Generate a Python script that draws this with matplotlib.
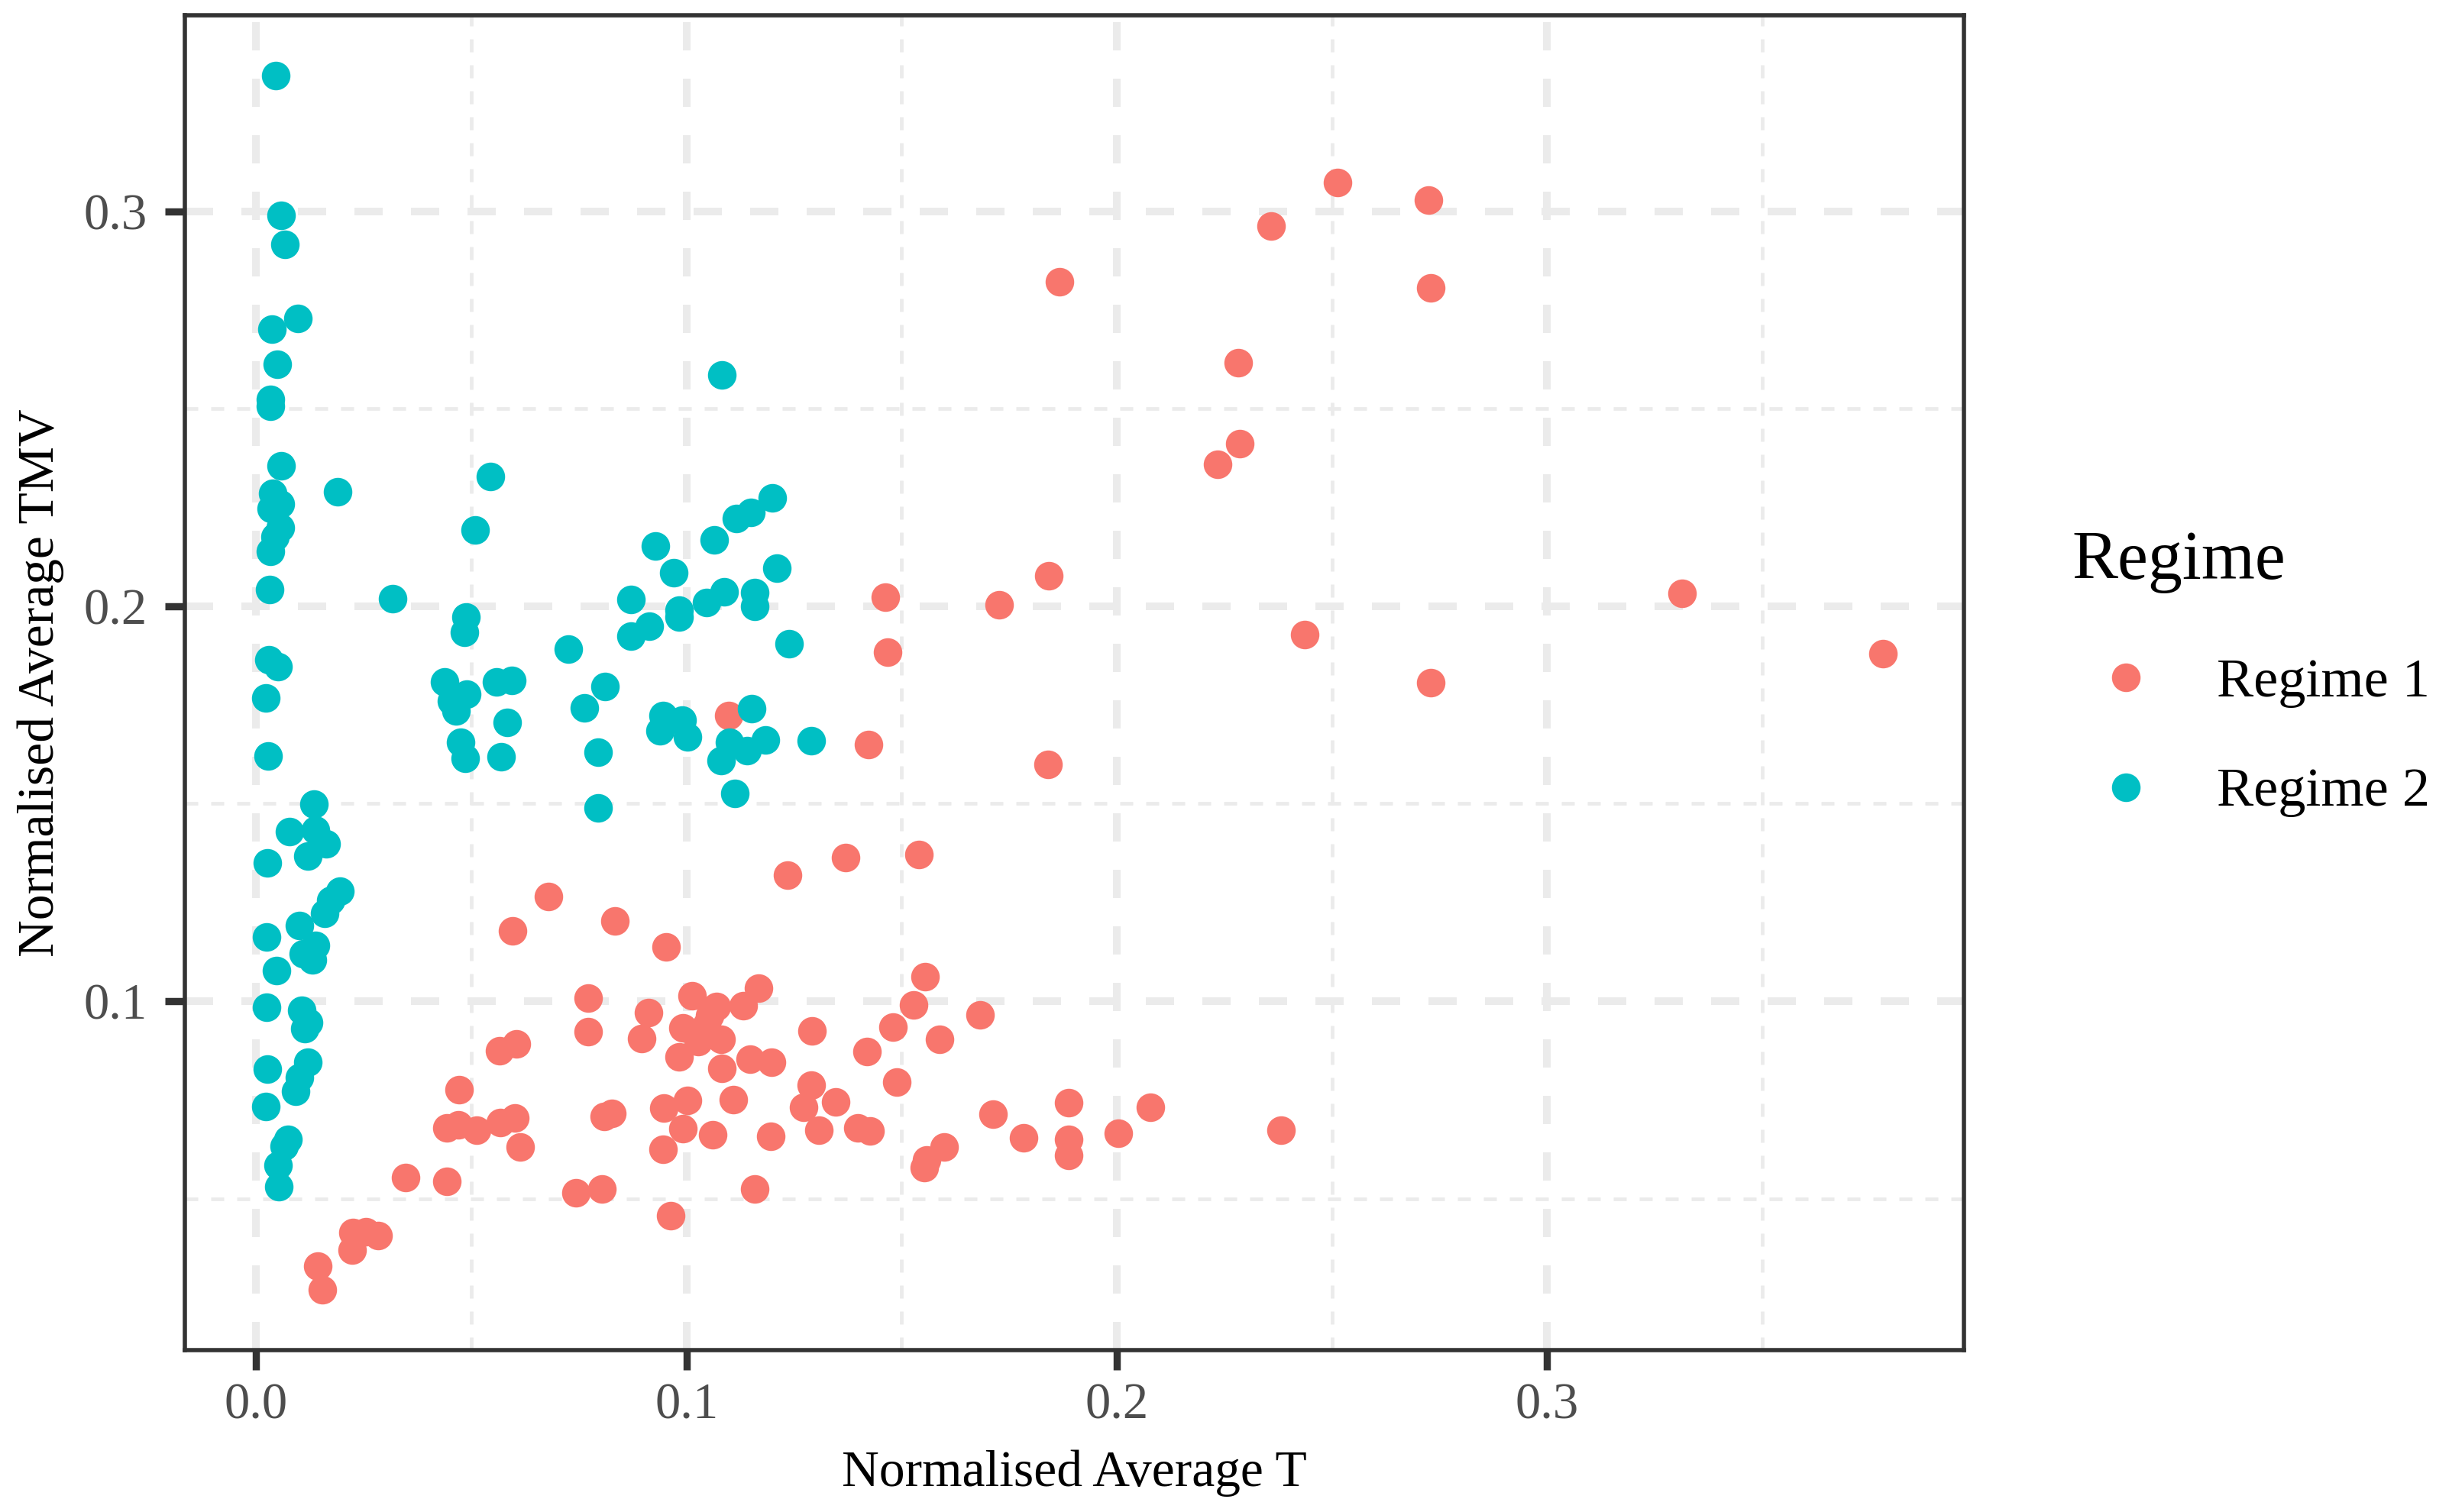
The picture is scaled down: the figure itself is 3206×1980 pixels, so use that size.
import matplotlib
matplotlib.use("Agg")
import matplotlib.pyplot as plt
from matplotlib.lines import Line2D
from matplotlib.ticker import FixedLocator, FormatStrFormatter

plt.rcParams['font.family'] = ['Liberation Serif', 'DejaVu Serif']

# Regime 1 (red) : normalised average T / TMV
regime1_T = [
    0.2513, 0.2724, 0.2358, 0.1867, 0.2729, 0.2283, 0.2286, 0.2234, 0.1842, 0.1727,
    0.3314, 0.2437, 0.2729, 0.3781, 0.1462, 0.1468, 0.1423, 0.1841, 0.1098, 0.1369,
    0.1540, 0.1234, 0.0680, 0.0595, 0.0833, 0.0952, 0.1555, 0.1167, 0.0772, 0.1013,
    0.1070, 0.1131, 0.1528, 0.1683, 0.0911, 0.1054, 0.1046, 0.0992, 0.1028, 0.1080,
    0.0895, 0.0771, 0.1292, 0.1480, 0.1589, 0.0605, 0.0565, 0.0982, 0.1082, 0.1147,
    0.1198, 0.1420, 0.1488, 0.1290, 0.0471, 0.1346, 0.1273, 0.1109, 0.1003, 0.0947,
    0.0827, 0.0808, 0.0601, 0.0567, 0.0512, 0.0470, 0.0443, 0.0613, 0.0992, 0.1060,
    0.1196, 0.1308, 0.1399, 0.1426, 0.0945, 0.1712, 0.1783, 0.1888, 0.1889, 0.1889,
    0.2004, 0.2078, 0.2382, 0.1599, 0.1558, 0.1553, 0.0743, 0.0804, 0.1158, 0.0964,
    0.0347, 0.0443, 0.0225, 0.0255, 0.0284, 0.0222, 0.0143, 0.0154,
]
regime1_TMV = [
    0.3074, 0.3028, 0.2963, 0.2822, 0.2807, 0.2616, 0.2412, 0.2360, 0.2077, 0.2003,
    0.2032, 0.1929, 0.1806, 0.1880, 0.2024, 0.1884, 0.1650, 0.1600, 0.1723, 0.1363,
    0.1372, 0.1320, 0.1265, 0.1178, 0.1204, 0.1138, 0.1062, 0.1033, 0.1008, 0.1013,
    0.0987, 0.0988, 0.0990, 0.0965, 0.0971, 0.0963, 0.0941, 0.0933, 0.0898, 0.0903,
    0.0906, 0.0923, 0.0925, 0.0935, 0.0903, 0.0891, 0.0874, 0.0858, 0.0830, 0.0854,
    0.0846, 0.0873, 0.0795, 0.0787, 0.0775, 0.0744, 0.0731, 0.0750, 0.0748, 0.0729,
    0.0716, 0.0708, 0.0704, 0.0692, 0.0674, 0.0687, 0.0680, 0.0631, 0.0678, 0.0661,
    0.0658, 0.0674, 0.0679, 0.0671, 0.0624, 0.0714, 0.0654, 0.0742, 0.0650, 0.0609,
    0.0666, 0.0732, 0.0674, 0.0631, 0.0598, 0.0578, 0.0514, 0.0525, 0.0525, 0.0456,
    0.0554, 0.0543, 0.0414, 0.0416, 0.0406, 0.0370, 0.0329, 0.0270,
]

# Regime 2 (teal)
regime2_T = [
    0.0045, 0.0057, 0.0066, 0.0096, 0.0036, 0.0048, 0.0033, 0.0033, 0.0058, 0.0190,
    0.0038, 0.0056, 0.0035, 0.0056, 0.0043, 0.0033, 0.0031, 0.0029, 0.0051, 0.0022,
    0.0028, 0.0134, 0.0077, 0.0138, 0.0162, 0.0120, 0.0025, 0.0194, 0.0173, 0.0159,
    0.0100, 0.0024, 0.0138, 0.0110, 0.0130, 0.0047, 0.0024, 0.0105, 0.0122, 0.0112,
    0.0120, 0.0025, 0.0101, 0.0091, 0.0022, 0.0074, 0.0065, 0.0051, 0.0053,
    0.0317, 0.0545, 0.0509, 0.0487, 0.0483, 0.0437, 0.0453, 0.0489, 0.0464, 0.0475,
    0.0486, 0.0558, 0.0594, 0.0583, 0.0569, 0.0725, 0.0763, 0.0811, 0.0795, 0.0795,
    0.0870, 0.0870, 0.0913, 0.0928, 0.0971, 0.0982, 0.0982, 0.0945, 0.0938, 0.0989,
    0.1002, 0.1046, 0.1087, 0.1064, 0.1116, 0.1149, 0.1199, 0.1210, 0.1158, 0.1158,
    0.1238, 0.1151, 0.1183, 0.1140, 0.1080, 0.1100, 0.1112, 0.1289, 0.1083,
]
regime2_TMV = [
    0.3343, 0.2990, 0.2916, 0.2728, 0.2702, 0.2612, 0.2523, 0.2507, 0.2355, 0.2290,
    0.2287, 0.2259, 0.2248, 0.2200, 0.2176, 0.2140, 0.2043, 0.1864, 0.1848, 0.1768,
    0.1621, 0.1499, 0.1430, 0.1434, 0.1398, 0.1367, 0.1351, 0.1278, 0.1256, 0.1223,
    0.1191, 0.1162, 0.1142, 0.1120, 0.1104, 0.1077, 0.0984, 0.0976, 0.0945, 0.0931,
    0.0846, 0.0828, 0.0807, 0.0772, 0.0733, 0.0651, 0.0633, 0.0584, 0.0531,
    0.2020, 0.2328, 0.2194, 0.1972, 0.1935, 0.1809, 0.1761, 0.1777, 0.1734, 0.1655,
    0.1615, 0.1809, 0.1813, 0.1706, 0.1618, 0.1892, 0.1742, 0.1797, 0.1631, 0.1490,
    0.2018, 0.1925, 0.1949, 0.2152, 0.2085, 0.1990, 0.1972, 0.1723, 0.1685, 0.1712,
    0.1670, 0.2010, 0.2036, 0.2168, 0.2223, 0.2237, 0.2274, 0.2097, 0.2034, 0.1999,
    0.1905, 0.1740, 0.1661, 0.1634, 0.1610, 0.1656, 0.1527, 0.1659, 0.2586,
]

regime_names = ['Regime 1', 'Regime 2']
regime_colors = ['#F8766D', '#00BFC4']

W, H = 3206, 1980
fig = plt.figure(figsize=(W / 200, H / 200), dpi=200)
ax = fig.add_axes([242 / W, 1 - 1768 / H, (2571 - 242) / W, (1768 - 20) / H])

ax.scatter(regime1_T, regime1_TMV, s=182, color=regime_colors[0], linewidths=0, zorder=3)
ax.scatter(regime2_T, regime2_TMV, s=182, color=regime_colors[1], linewidths=0, zorder=3)

# ggplot-like 5% expansion of the data range
all_x = regime1_T + regime2_T
all_y = regime1_TMV + regime2_TMV
dx = (max(all_x) - min(all_x)) * 0.05
dy = (max(all_y) - min(all_y)) * 0.05
ax.set_xlim(min(all_x) - dx, max(all_x) + dx)
ax.set_ylim(min(all_y) - dy, max(all_y) + dy)

ax.xaxis.set_major_locator(FixedLocator([0.0, 0.1, 0.2, 0.3]))
ax.xaxis.set_minor_locator(FixedLocator([0.05, 0.15, 0.25, 0.35]))
ax.yaxis.set_major_locator(FixedLocator([0.1, 0.2, 0.3]))
ax.yaxis.set_minor_locator(FixedLocator([0.05, 0.15, 0.25]))
ax.xaxis.set_major_formatter(FormatStrFormatter('%.1f'))
ax.yaxis.set_major_formatter(FormatStrFormatter('%.1f'))

ax.set_axisbelow(True)
ax.grid(which='major', color='#EBEBEB', linewidth=3.6, linestyle=(0, (3.7, 3.7)))
ax.grid(which='minor', color='#EBEBEB', linewidth=1.7, linestyle=(0, (3.6, 3.6)))

for sp in ax.spines.values():
    sp.set_color('#333333')
    sp.set_linewidth(2.0)
    sp.set_zorder(5)

ax.tick_params(which='major', direction='out', length=9.4, width=3.4, color='#333333',
               labelsize=24, labelcolor='#4D4D4D')
ax.tick_params(axis='x', which='major', pad=5.8)
ax.tick_params(axis='y', which='major', pad=8.3)
ax.tick_params(which='minor', length=0)

ax.set_xlabel('Normalised Average T', fontsize=24.3, color='black')
ax.set_ylabel('Normalised Average TMV', fontsize=24.3, color='black')
ax.xaxis.set_label_coords(0.5, -0.0744)
ax.yaxis.set_label_coords(-0.0678, 0.5)

# legend
fig.text(2712 / W, 1 - 757.7 / H, 'Regime', fontsize=32.4, ha='left', va='baseline')
key_y = [887, 1031]
lab_base = [911.6, 1055]
for name, col, ky, lb in zip(regime_names, regime_colors, key_y, lab_base):
    fig.add_artist(Line2D([2783 / W], [1 - ky / H], marker='o', markersize=13.5,
                          markerfacecolor=col, markeredgewidth=0, linestyle='none',
                          transform=fig.transFigure))
    fig.text(2902 / W, 1 - lb / H, name, fontsize=26, ha='left', va='baseline')

fig.savefig('out.png', dpi=200, facecolor='white')
